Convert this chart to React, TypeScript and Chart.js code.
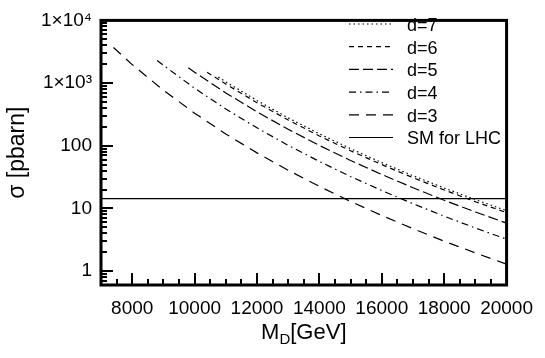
import React, { useEffect, useRef } from "react";
import { Chart, registerables } from "chart.js";
Chart.register(...registerables);

const FONT = "'Liberation Sans', Arial, Helvetica, sans-serif";

// Extra-dimension cross sections sigma [pbarn] vs M_D [GeV]
const massD7 = [10760, 11000, 12000, 13000, 14000, 15000, 16000, 17000, 18000, 19000, 20000];
const sigmaD7 = [1247, 1047, 526, 279, 155, 89.8, 53.8, 33.3, 21.2, 13.8, 9.2];

const massD6 = [10400, 11000, 12000, 13000, 14000, 15000, 16000, 17000, 18000, 19000, 20000];
const sigmaD6 = [1490, 964, 485, 258, 143, 83.1, 50.0, 30.9, 19.7, 12.8, 8.57];

const massD5 = [9800, 10000, 11000, 12000, 13000, 14000, 15000, 16000, 17000, 18000, 19000, 20000];
const sigmaD5 = [1754, 1493, 696, 347, 183, 101, 58.3, 34.8, 21.4, 13.5, 8.78, 5.83];

const massD4 = [8800, 9000, 10000, 11000, 12000, 13000, 14000, 15000, 16000, 17000, 18000, 19000, 20000];
const sigmaD4 = [2300, 1923, 828, 386, 193, 101.5, 56.1, 32.3, 19.3, 11.9, 7.51, 4.87, 3.23];

const massD3 = [7400, 8000, 9000, 10000, 11000, 12000, 13000, 14000, 15000, 16000, 17000, 18000, 19000, 20000];
const sigmaD3 = [3700, 1973, 769, 331, 154, 77, 40.6, 22.5, 12.9, 7.71, 4.75, 3.0, 1.95, 1.29];

const massSM = [7000, 20000];
const sigmaSM = [14.3, 14.3];

const seriesLabels = ["d=7", "d=6", "d=5", "d=4", "d=3", "SM for LHC"];

const xTickValues = [8000, 10000, 12000, 14000, 16000, 18000, 20000];
const xTickLabels = ["8000", "10000", "12000", "14000", "16000", "18000", "20000"];
const yTickValues = [1, 10, 100, 1000, 10000];
const yTickLabels = ["1", "10", "100", "1×10³", "1×10⁴"];

const X_MIN = 7000;
const X_MAX = 20000;
const Y_MIN = 0.63;
const Y_MAX = 10000;

function pts(xs: number[], ys: number[]) {
  return xs.map((x, i) => ({ x, y: ys[i] }));
}

const framePlugin = {
  id: "framePlugin",
  afterDraw(chart: any) {
    const ctx = chart.ctx;
    const area = chart.chartArea;
    const xs = chart.scales.x;
    const ys = chart.scales.y;
    ctx.save();
    ctx.strokeStyle = "#000";
    ctx.lineCap = "butt";

    // ticks (inward)
    ctx.lineWidth = 2;
    // x ticks every 500, major every 2000
    for (let v = X_MIN + 500; v < X_MAX; v += 500) {
      const px = Math.round(xs.getPixelForValue(v)) + 0.0;
      const major = v % 2000 === 0;
      const len = major ? 12 : 6;
      ctx.beginPath();
      ctx.moveTo(px, area.bottom);
      ctx.lineTo(px, area.bottom - len);
      ctx.stroke();
    }
    // y ticks: log minor
    for (let dec = 0.1; dec <= 10000; dec *= 10) {
      for (let m = 1; m <= 9; m++) {
        const v = dec * m;
        if (v < Y_MIN || v >= Y_MAX * 1.0001) continue;
        const py = Math.round(ys.getPixelForValue(v));
        const major = m === 1;
        const len = major ? 12 : 6;
        ctx.beginPath();
        ctx.moveTo(area.left, py);
        ctx.lineTo(area.left + len, py);
        ctx.stroke();
      }
    }

    // frame
    ctx.lineWidth = 3;
    ctx.strokeRect(area.left, area.top, area.right - area.left, area.bottom - area.top);

    // legend
    const datasets = chart.data.datasets;
    const x0 = 349;
    const x1 = 393;
    const tx = 407;
    ctx.font = `18px ${FONT}`;
    ctx.fillStyle = "#000";
    ctx.textBaseline = "middle";
    ctx.textAlign = "left";
    datasets.forEach((ds: any, i: number) => {
      const y = 24 + i * 22.7;
      ctx.save();
      ctx.lineWidth = ds.borderWidth;
      ctx.setLineDash(ds.borderDash || []);
      ctx.beginPath();
      ctx.moveTo(x0, y);
      ctx.lineTo(x1, y);
      ctx.stroke();
      ctx.restore();
      ctx.fillText(ds.label, tx, y + 2);
    });

    // x-axis title with subscript
    const big = `22px ${FONT}`;
    const small = `15px ${FONT}`;
    ctx.textBaseline = "alphabetic";
    ctx.font = big;
    const wM = ctx.measureText("M").width;
    const wG = ctx.measureText("[GeV]").width;
    ctx.font = small;
    const wD = ctx.measureText("D").width;
    const total = wM + wD + wG;
    let cx = (area.left + area.right) / 2 - total / 2;
    const base = 339;
    ctx.font = big;
    ctx.fillText("M", cx, base);
    cx += wM;
    ctx.font = small;
    ctx.fillText("D", cx, base + 5);
    cx += wD;
    ctx.font = big;
    ctx.fillText("[GeV]", cx, base);

    ctx.restore();
  },
};

export default function App() {
  const ref = useRef<HTMLCanvasElement | null>(null);

  useEffect(() => {
    document.body.style.margin = "0";
    const canvas = ref.current;
    if (!canvas) return;
    const common = {
      borderColor: "#000",
      backgroundColor: "#000",
      borderWidth: 1.2,
      pointRadius: 0,
      fill: false,
      tension: 0,
    };
    const chart = new Chart(canvas, {
      type: "line",
      data: {
        datasets: [
          { ...common, label: seriesLabels[0], data: pts(massD7, sigmaD7), borderDash: [1.5, 3] },
          { ...common, label: seriesLabels[1], data: pts(massD6, sigmaD6), borderDash: [5, 4] },
          { ...common, label: seriesLabels[2], data: pts(massD5, sigmaD5), borderDash: [10, 4] },
          { ...common, label: seriesLabels[3], data: pts(massD4, sigmaD4), borderDash: [7, 4, 1.5, 4] },
          { ...common, label: seriesLabels[4], data: pts(massD3, sigmaD3), borderDash: [10, 7] },
          { ...common, label: seriesLabels[5], data: pts(massSM, sigmaSM), borderDash: [] },
        ] as any,
      },
      options: {
        animation: false,
        responsive: false,
        devicePixelRatio: 1,
        layout: { padding: { top: 13, right: 35, left: 0, bottom: 0 } },
        plugins: {
          legend: { display: false },
          tooltip: { enabled: false },
        },
        scales: {
          x: {
            type: "linear",
            min: X_MIN,
            max: X_MAX,
            grid: { display: false, drawTicks: false },
            border: { display: false },
            afterBuildTicks: (scale: any) => {
              scale.ticks = xTickValues.map((v) => ({ value: v }));
            },
            afterFit: (scale: any) => {
              scale.height = 73;
            },
            ticks: {
              padding: 12,
              maxRotation: 0,
              autoSkip: false,
              color: "#000",
              font: { size: 19, family: FONT },
              callback: (v: any) => {
                const i = xTickValues.indexOf(Number(v));
                return i >= 0 ? xTickLabels[i] : "";
              },
            },
          },
          y: {
            type: "logarithmic",
            min: Y_MIN,
            max: Y_MAX,
            grid: { display: false, drawTicks: false },
            border: { display: false },
            afterBuildTicks: (scale: any) => {
              scale.ticks = yTickValues.map((v) => ({ value: v }));
            },
            afterFit: (scale: any) => {
              scale.width = 101;
            },
            title: {
              display: true,
              text: "σ [pbarn]",
              color: "#000",
              font: { size: 23, family: FONT },
              padding: { top: 4, bottom: 0 },
            },
            ticks: {
              padding: 9,
              autoSkip: false,
              color: "#000",
              font: { size: 19, family: FONT },
              callback: (v: any) => {
                const i = yTickValues.findIndex((t) => Math.abs(t - Number(v)) < 1e-6 * t);
                return i >= 0 ? yTickLabels[i] : "";
              },
            },
          },
        },
      } as any,
      plugins: [framePlugin],
    });
    return () => chart.destroy();
  }, []);

  return (
    <div style={{ width: 545, height: 358, background: "#fff" }}>
      <canvas ref={ref} width={545} height={358} style={{ display: "block" }} />
    </div>
  );
}
